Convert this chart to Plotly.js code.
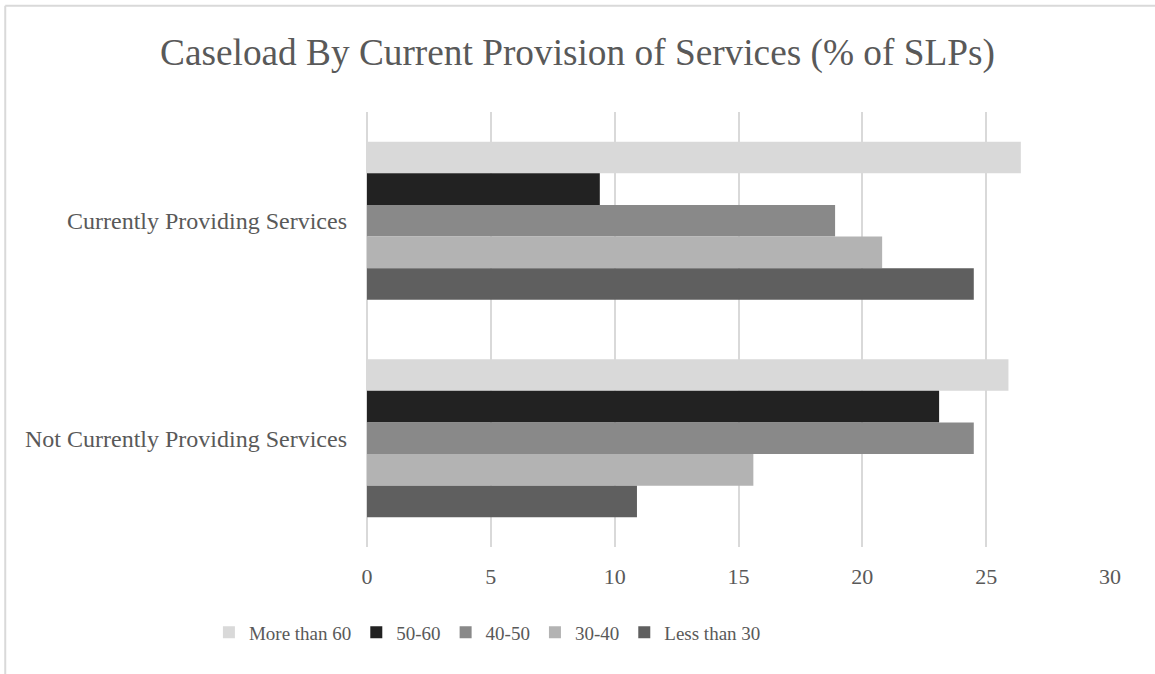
<!DOCTYPE html>
<html>
<head>
<meta charset="utf-8">
<script src="https://cdn.plot.ly/plotly-3.0.1.min.js"></script>
<style>
html,body{margin:0;padding:0;background:#fff;}
#chart{width:1155px;height:674px;}
</style>
</head>
<body>
<div id="chart"></div>
<script>
const categories = ["Currently Providing Services", "Not Currently Providing Services"];
const seriesNames = ["More than 60", "50-60", "40-50", "30-40", "Less than 30"];
const moreThan60 = [26.4, 25.9];
const s50to60 = [9.4, 23.1];
const s40to50 = [18.9, 24.5];
const s30to40 = [20.8, 15.6];
const lessThan30 = [24.5, 10.9];
const seriesValues = [moreThan60, s50to60, s40to50, s30to40, lessThan30];
const seriesColors = ["#d9d9d9", "#222222", "#898989", "#b3b3b3", "#5f5f5f"];
const xTicks = [0, 5, 10, 15, 20, 25, 30];

const fontFam = "Liberation Serif, Times New Roman, serif";
const textColor = "#595959";

const traces = seriesNames.map((name, i) => ({
  type: "bar",
  orientation: "h",
  name: name,
  y: categories,
  x: seriesValues[i],
  marker: {color: seriesColors[i], line: {width: 0}},
  hoverinfo: "x+name"
}));

// plot area geometry
const W = 1155, H = 674;
const mL = 367, mR = W - 1110.5, mT = 111.5, mB = H - 547.5;
const pw = W - mL - mR, ph = H - mT - mB;
const px2x = px => (px - mL) / pw;
const py2y = py => (H - mB - py) / ph;

const layout = {
  width: W, height: H,
  margin: {l: mL, r: mR, t: mT, b: mB, pad: 0},
  paper_bgcolor: "#ffffff",
  plot_bgcolor: "#ffffff",
  font: {family: fontFam, color: textColor},
  title: {
    text: "Caseload By Current Provision of Services (% of SLPs)",
    font: {family: fontFam, size: 37.3, color: textColor},
    x: 0.5, xref: "container", xanchor: "center",
    y: 1 - 52 / H, yref: "container", yanchor: "middle"
  },
  barmode: "group",
  bargap: 0.273,
  bargroupgap: 0,
  xaxis: {
    range: [0, 30],
    tickvals: xTicks,
    ticktext: xTicks.map(String),
    showgrid: true,
    gridcolor: "#d9d9d9",
    gridwidth: 1.5,
    zeroline: true,
    zerolinecolor: "#d9d9d9",
    zerolinewidth: 1.5,
    showline: false,
    ticks: "",
    ticklabelstandoff: 14,
    tickfont: {family: fontFam, size: 22, color: textColor},
    fixedrange: true
  },
  yaxis: {
    type: "category",
    categoryorder: "array",
    categoryarray: categories,
    autorange: "reversed",
    showgrid: false,
    zeroline: false,
    showline: false,
    ticks: "",
    ticklabelstandoff: 19,
    tickfont: {family: fontFam, size: 24, color: textColor},
    fixedrange: true
  },
  showlegend: true,
  legend: {
    orientation: "h",
    traceorder: "normal",
    x: px2x(487.5), xanchor: "center",
    y: py2y(633), yanchor: "middle",
    font: {family: fontFam, size: 19, color: textColor},
    bgcolor: "rgba(0,0,0,0)",
    itemclick: false, itemdoubleclick: false
  },
  shapes: [
    {type: "line", xref: "paper", yref: "paper",
     x0: px2x(5), x1: px2x(1160), y0: py2y(5), y1: py2y(5),
     line: {color: "#d9d9d9", width: 2}},
    {type: "line", xref: "paper", yref: "paper",
     x0: px2x(5), x1: px2x(5), y0: py2y(5), y1: py2y(680),
     line: {color: "#d9d9d9", width: 2}}
  ]
};

Plotly.newPlot("chart", traces, layout, {displayModeBar: false, staticPlot: false});
</script>
</body>
</html>
